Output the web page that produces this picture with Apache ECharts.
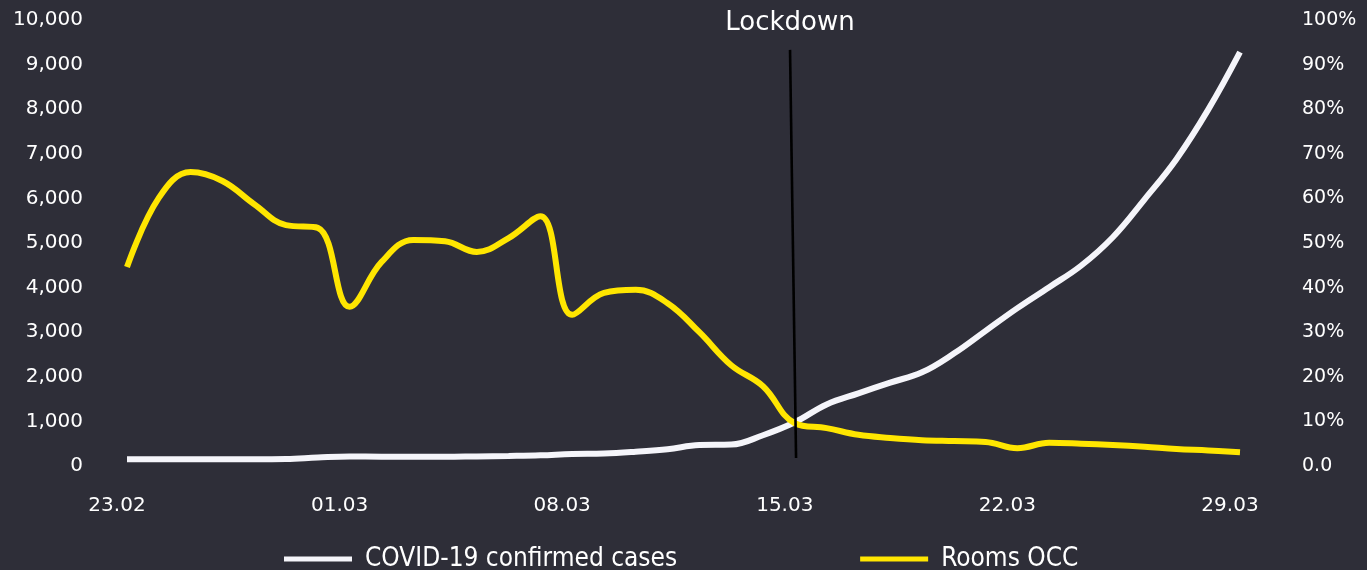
<!DOCTYPE html>
<html>
<head>
<meta charset="utf-8">
<script src="https://cdn.jsdelivr.net/npm/echarts@6/dist/echarts.min.js"></script>
<style>
  html, body { margin: 0; padding: 0; background: #2e2e38; }
  #chart { width: 1367px; height: 570px; }
</style>
</head>
<body>
<div id="chart"></div>
<script>
// Daily dates, 23 Feb – 29 Mar 2020
const dates = ['23.02','24.02','25.02','26.02','27.02','28.02','29.02',
  '01.03','02.03','03.03','04.03','05.03','06.03','07.03','08.03','09.03','10.03',
  '11.03','12.03','13.03','14.03','15.03','16.03','17.03','18.03','19.03','20.03',
  '21.03','22.03','23.03','24.03','25.03','26.03','27.03','28.03','29.03'];

// Confirmed COVID-19 cases (left axis)
const cases = [150,150,150,150,150,155,190,215,210,205,205,215,225,240,270,280,320,375,
  470,480,690,980,1380,1630,1870,2100,2520,3030,3540,4010,4490,5130,5980,6880,7990,9280];

// Hotel room occupancy, % (right axis)
const occupancy = [44.6,60.1,65.9,63.9,58.7,54.0,53.4,35.7,45.7,50.7,50.4,48.0,51.1,56.0,
  33.9,38.8,39.5,36.5,30.0,22.6,17.9,9.6,8.5,7.0,6.3,5.8,5.6,5.4,4.0,5.2,5.0,4.7,4.3,3.8,3.5,3.1];

// Lockdown marker: the vertical rule's end points (day index, right-axis %)
const lockdownLabel = 'Lockdown';
const lockdownTop = [20.85, 93.3];
const lockdownBottom = [21.04, 1.8];

const FONT = "'DejaVu Sans', sans-serif";
const LEGEND_FONT = "'DejaVu Sans Condensed', 'DejaVu Sans', sans-serif";

const chart = echarts.init(document.getElementById('chart'));
chart.setOption({
  backgroundColor: '#2e2e38',
  animation: false,
  grid: { left: 127, right: 127, top: 20, bottom: 104 },
  legend: {
    bottom: -2,
    left: 284,
    padding: 0,
    itemWidth: 68,
    itemHeight: 5,
    itemGap: 183,
    icon: 'rect',
    textStyle: { color: '#ffffff', fontSize: 26, fontFamily: LEGEND_FONT, padding: [0, 0, 0, 8] },
    data: ['COVID-19 confirmed cases', 'Rooms OCC']
  },
  xAxis: {
    type: 'value',
    min: 0,
    max: dates.length - 1,
    interval: 7,
    axisLine: { show: false },
    axisTick: { show: false },
    splitLine: { show: false },
    axisLabel: {
      color: '#ffffff', fontSize: 20, fontFamily: FONT, margin: 30,
      padding: [0, 20, 0, 0],
      formatter: v => dates[v] || ''
    }
  },
  yAxis: [
    {
      type: 'value', min: 0, max: 10000, interval: 1000,
      axisLine: { show: false }, axisTick: { show: false }, splitLine: { show: false },
      axisLabel: {
        color: '#ffffff', fontSize: 20, fontFamily: FONT, margin: 44,
        formatter: v => v.toLocaleString('en-US')
      }
    },
    {
      type: 'value', min: 0, max: 100, interval: 10, position: 'right',
      axisLine: { show: false }, axisTick: { show: false }, splitLine: { show: false },
      axisLabel: {
        color: '#ffffff', fontSize: 19, fontFamily: FONT, margin: 62,
        formatter: v => (v === 0 ? '0.0' : v + '%')
      }
    }
  ],
  series: [
    {
      name: 'COVID-19 confirmed cases',
      type: 'line',
      yAxisIndex: 0,
      smooth: 0.4,
      showSymbol: false,
      color: '#f5f5fa',
      lineStyle: { color: '#f5f5fa', width: 6 },
      data: cases.map((v, i) => [i, v])
    },
    {
      name: 'Rooms OCC',
      type: 'line',
      yAxisIndex: 1,
      smooth: 0.4,
      showSymbol: false,
      color: '#ffe600',
      lineStyle: { color: '#ffe600', width: 6 },
      data: occupancy.map((v, i) => [i, v]),
      markLine: {
        silent: true,
        symbol: ['none', 'none'],
        z: 10,
        lineStyle: { color: '#000000', width: 2.6, type: 'solid' },
        label: { show: false },
        data: [[{ coord: lockdownTop }, { coord: lockdownBottom }]]
      },
      markPoint: {
        silent: true,
        symbolSize: 0,
        label: {
          show: true,
          position: 'inside',
          offset: [0, -27],
          formatter: lockdownLabel,
          color: '#ffffff',
          fontSize: 26,
          fontFamily: FONT
        },
        data: [{ coord: lockdownTop }]
      }
    }
  ]
});
</script>
</body>
</html>
